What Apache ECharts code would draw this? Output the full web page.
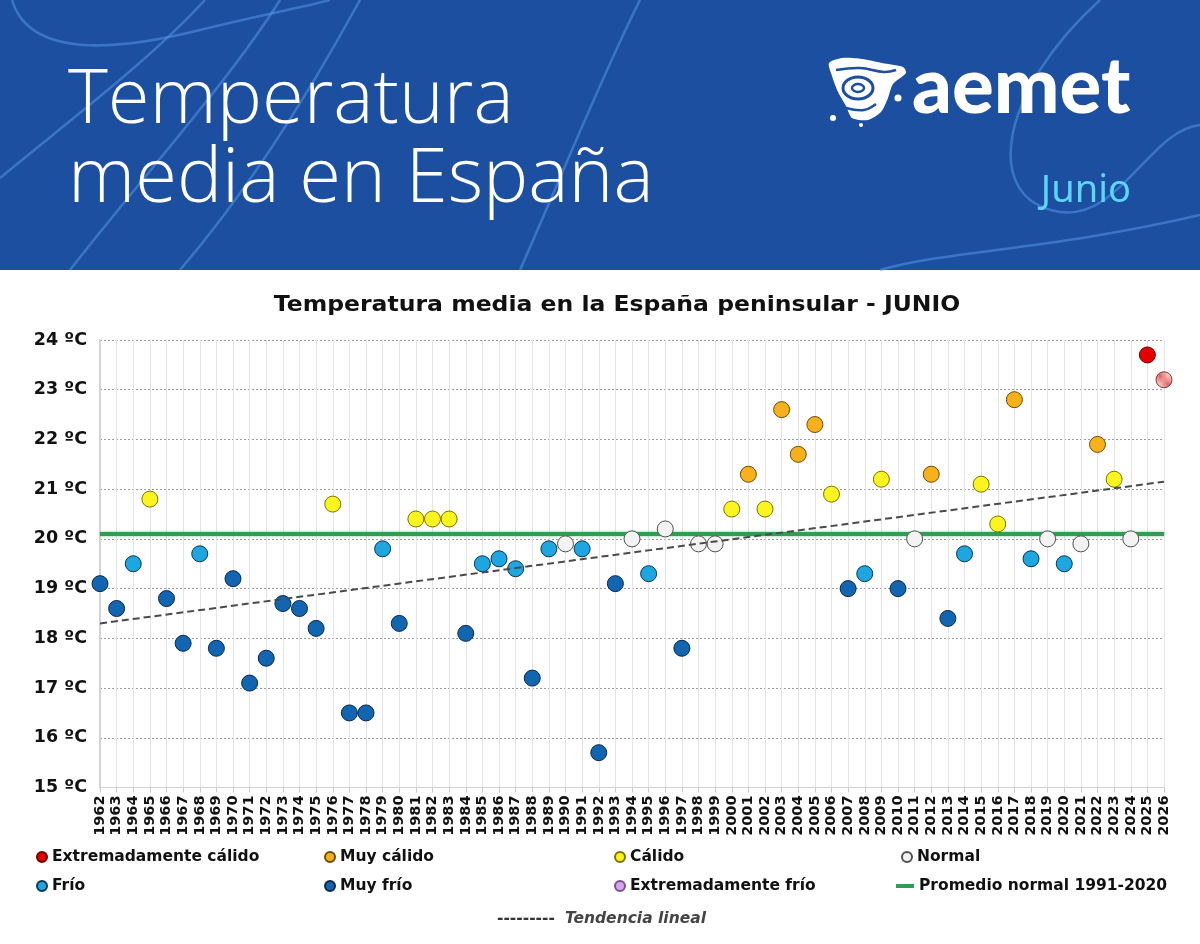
<!DOCTYPE html>
<html>
<head>
<meta charset="utf-8">
<script src="https://cdn.jsdelivr.net/npm/echarts@6/dist/echarts.min.js"></script>
<style>
html,body{margin:0;padding:0;background:#ffffff;}
#chart{width:1200px;height:944px;}
</style>
</head>
<body>
<div id="chart"></div>
<script>
// ---------------- DATA ----------------
const years = ['1962','1963','1964','1965','1966','1967','1968','1969','1970','1971','1972','1973','1974','1975','1976','1977','1978','1979','1980','1981','1982','1983','1984','1985','1986','1987','1988','1989','1990','1991','1992','1993','1994','1995','1996','1997','1998','1999','2000','2001','2002','2003','2004','2005','2006','2007','2008','2009','2010','2011','2012','2013','2014','2015','2016','2017','2018','2019','2020','2021','2022','2023','2024','2025','2026'];
const temps = [19.1,18.6,19.5,20.8,18.8,17.9,19.7,17.8,19.2,17.1,17.6,18.7,18.6,18.2,20.7,16.5,16.5,19.8,18.3,20.4,20.4,20.4,18.1,19.5,19.6,19.4,17.2,19.8,19.9,19.8,15.7,19.1,20.0,19.3,20.2,17.8,19.9,19.9,20.6,21.3,20.6,22.6,21.7,22.3,20.9,19.0,19.3,21.2,19.0,20.0,21.3,18.4,19.7,21.1,20.3,22.8,19.6,20.0,19.5,19.9,21.9,21.2,20.0,23.7,23.2];
const classes = ['MF','MF','F','C','MF','MF','F','MF','MF','MF','MF','MF','MF','MF','C','MF','MF','F','MF','C','C','C','MF','F','F','F','MF','F','N','F','MF','MF','N','F','N','MF','N','N','C','MC','C','MC','MC','MC','C','MF','F','C','MF','N','MC','MF','F','C','C','MC','F','N','F','N','MC','C','N','EC','ECp'];
const classNames = {EC:'Extremadamente cálido', MC:'Muy cálido', C:'Cálido', N:'Normal', F:'Frío', MF:'Muy frío', EF:'Extremadamente frío'};
const normalName = 'Promedio normal 1991-2020';
const normalValue = 20.1;
const trendName = 'Tendencia lineal';
const trendYears = ['1962','2026'];
const trendValues = [18.3, 21.15];
const yTicks = [15,16,17,18,19,20,21,22,23,24];

// ---------------- STYLES ----------------
const classStyle = {
  EC:{color:'#e50000', border:'#6a0000'},
  MC:{color:'#f6b11c', border:'#6e4a00'},
  C:{color:'#fbf41f', border:'#7a7400'},
  N:{color:'#f3f3f3', border:'#505050'},
  F:{color:'#1ea6e1', border:'#0b3550'},
  MF:{color:'#1266b1', border:'#0a2748'},
  EF:{color:'#d7a2ee', border:'#7b5090'}
};
const order = ['EC','MC','C','N','F','MF','EF'];

// hatched pattern for the provisional value
const pat = document.createElement('canvas');
pat.width = 4; pat.height = 4;
(function(){
  const c = pat.getContext('2d');
  c.fillStyle = '#f6b4b4'; c.fillRect(0,0,4,4);
  c.fillStyle = '#d83a3a';
  c.fillRect(0,0,1,1); c.fillRect(2,2,1,1); c.fillRect(1,1,1,1); c.fillRect(3,3,1,1);
})();

const scatterSeries = order.map(function(k){
  const pts = [];
  for (let i=0;i<years.length;i++){ if (classes[i]===k) pts.push([years[i], temps[i]]); }
  return {
    name: classNames[k], type:'scatter', symbol:'circle', symbolSize:16, z:3,
    itemStyle:{color:classStyle[k].color, borderColor:classStyle[k].border, borderWidth:1, opacity:1},
    data: pts
  };
});
const provPts = [];
for (let i=0;i<years.length;i++){ if (classes[i]==='ECp') provPts.push([years[i], temps[i]]); }
scatterSeries.push({
  name:'provisional', type:'scatter', symbol:'circle', symbolSize:16, z:3,
  itemStyle:{color:{image:pat, repeat:'repeat'}, borderColor:'#6a1010', borderWidth:1},
  data: provPts
});

const normalSeries = {
  name: normalName, type:'line', symbol:'none', z:2, silent:true,
  lineStyle:{color:'#2f9e52', width:4, shadowColor:'rgba(70,175,100,0.7)', shadowBlur:3},
  itemStyle:{color:'#2f9e52'},
  data: [[years[0], normalValue],[years[years.length-1], normalValue]]
};
const trendSeries = {
  name: trendName, type:'line', symbol:'none', z:4, silent:true,
  lineStyle:{color:'#4a4a4a', width:2, type:[7,4]},
  itemStyle:{color:'#4a4a4a'},
  data: trendYears.map(function(y,i){return [y, trendValues[i]];})
};

// ---------------- LEGENDS ----------------
const lgFont = {fontFamily:'DejaVu Sans', fontWeight:'bold', fontSize:15.5, color:'#111'};
function lg(name, left, top, extra){
  return Object.assign({data:[name], left:left, top:top, itemWidth:10, itemHeight:10, icon:'circle',
    selectedMode:false, padding:0, textStyle:lgFont}, extra||{});
}
const legends = [
  lg(classNames.EC, 36, 849), lg(classNames.MC, 324, 849), lg(classNames.C, 614, 849), lg(classNames.N, 901, 849),
  lg(classNames.F, 36, 878), lg(classNames.MF, 324, 878), lg(classNames.EF, 614, 878),
  lg(normalName, 896, 878, {icon:'rect', itemWidth:18, itemHeight:4}),
  {data:[trendName], left:492, top:911, itemWidth:0, itemHeight:0, icon:'rect', selectedMode:false, padding:0,
   formatter: function(){ return '{d|---------}   {t|' + trendName + '}'; },
   textStyle:{rich:{
     d:{fontFamily:'DejaVu Sans', fontWeight:'bold', fontSize:15.5, color:'#333'},
     t:{fontFamily:'DejaVu Sans', fontStyle:'italic', fontWeight:'bold', fontSize:15.5, color:'#444'}
   }}}
];

// ---------------- HEADER GRAPHICS ----------------
const curveStroke = {stroke:'rgba(86,150,232,0.55)', lineWidth:2.5, fill:null};
function bez(x1,y1,cx1,cy1,cx2,cy2,x2,y2){
  return {type:'bezierCurve', silent:true, z:1, shape:{x1:x1,y1:y1,cpx1:cx1,cpy1:cy1,cpx2:cx2,cpy2:cy2,x2:x2,y2:y2}, style:curveStroke};
}
const header = [
  {type:'rect', silent:true, z:0, shape:{x:0,y:0,width:1200,height:270}, style:{fill:'#1c4f9f'}},
  bez(12,0, 30,60, 120,50, 200,30),
  bez(200,30, 260,15, 300,8, 330,0),
  bez(0,178, 70,120, 150,60, 205,0),
  bez(70,270, 140,180, 230,80, 280,0),
  bez(180,270, 240,200, 300,110, 360,0),
  bez(520,270, 560,180, 600,80, 640,0),
  bez(1100,0, 1000,90, 980,200, 1060,212),
  bez(1060,212, 1120,220, 1150,130, 1200,125),
  bez(880,270, 950,250, 1050,250, 1200,215),
  // logo icon
  {type:'polygon', silent:true, z:2, shape:{points:[[829,63],[842,58],[862,59],[882,63],[903,67],[906,73],[893,84],[888,98],[881,112],[868,120],[852,118],[846,106],[838,92],[832,76]], smooth:0.25}, style:{fill:'#ffffff'}},
  {type:'ellipse', silent:true, z:3, shape:{cx:858,cy:88,rx:15,ry:11}, style:{fill:null, stroke:'#1c4f9f', lineWidth:3}},
  {type:'ellipse', silent:true, z:3, shape:{cx:858,cy:88,rx:6,ry:4}, style:{fill:null, stroke:'#1c4f9f', lineWidth:2.5}},
  {type:'polyline', silent:true, z:3, shape:{points:[[836,70],[860,68],[884,72],[896,70]], smooth:0.4}, style:{stroke:'#1c4f9f', lineWidth:2.5, fill:null}},
  {type:'polyline', silent:true, z:3, shape:{points:[[846,108],[864,110],[876,104]], smooth:0.4}, style:{stroke:'#1c4f9f', lineWidth:2.5, fill:null}},
  {type:'circle', silent:true, z:3, shape:{cx:898,cy:98,r:3.5}, style:{fill:'#ffffff'}},
  {type:'circle', silent:true, z:3, shape:{cx:833,cy:118,r:3}, style:{fill:'#ffffff'}},
  {type:'circle', silent:true, z:3, shape:{cx:861,cy:125,r:2}, style:{fill:'#ffffff'}},
  {type:'text', silent:true, z:3, x:912, y:88, style:{text:'aemet', fill:'#ffffff', font:'900 78px Lato', verticalAlign:'middle'}},
  {type:'text', silent:true, z:3, x:68, y:101, style:{text:'Temperatura', fill:'#ffffff', font:'300 76px "Open Sans"', verticalAlign:'middle'}},
  {type:'text', silent:true, z:3, x:68, y:180, style:{text:'media en España', fill:'#ffffff', font:'300 76px "Open Sans"', verticalAlign:'middle'}},
  {type:'text', silent:true, z:3, x:1131, y:191, style:{text:'Junio', fill:'#5cd6fa', font:'400 38px "Noto Sans"', align:'right', verticalAlign:'middle'}},
  // chart title
  {type:'text', silent:true, z:3, x:617, y:306, originX:0, originY:0, scaleX:1.12,
   style:{text:'Temperatura media en la España peninsular - JUNIO', fill:'#111', font:'bold 21px "DejaVu Sans"', align:'center', verticalAlign:'middle'}}
];

// ---------------- CHART ----------------
const chart = echarts.init(document.getElementById('chart'), null, {renderer:'canvas'});
chart.setOption({
  backgroundColor:'#ffffff',
  animation:false,
  grid:{left:100, right:36, top:340, bottom:156.5, containLabel:false},
  xAxis:{
    type:'category', data:years, boundaryGap:false,
    axisLine:{show:true, lineStyle:{color:'#d4d4d4', width:1}},
    axisTick:{show:true, interval:0, length:5, lineStyle:{color:'#c8c8c8'}},
    splitLine:{show:true, interval:0, lineStyle:{color:'#e4e4e4', width:1}},
    axisLabel:{interval:0, rotate:90, margin:8, fontFamily:'DejaVu Sans', fontWeight:'bold', fontSize:14.5, color:'#111'}
  },
  yAxis:{
    type:'value', min:yTicks[0], max:yTicks[yTicks.length-1], interval:1,
    axisLine:{show:true, lineStyle:{color:'#d4d4d4', width:2}},
    axisTick:{show:false},
    splitLine:{show:true, lineStyle:{color:'#9a9a9a', width:1, type:[2,2]}},
    axisLabel:{formatter:'{value} ºC', margin:13, fontFamily:'DejaVu Sans', fontWeight:'bold', fontSize:17.5, color:'#111'}
  },
  legend: legends,
  graphic: header,
  series: [normalSeries].concat(scatterSeries).concat([trendSeries])
});
</script>
</body>
</html>
